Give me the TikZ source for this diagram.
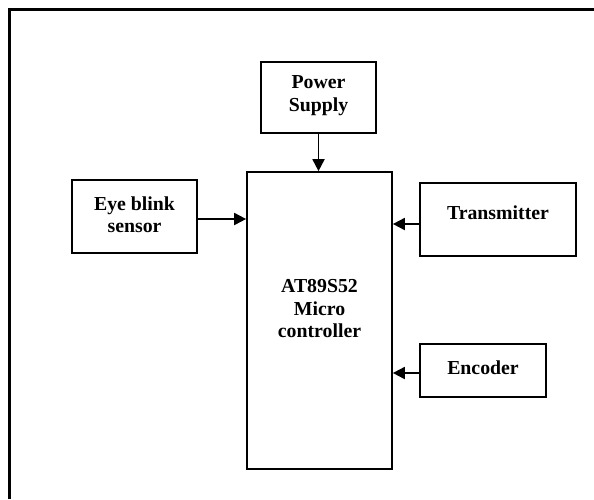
\documentclass[tikz,border=0pt]{standalone}
\usepackage{fontspec}
\setmainfont{Liberation Serif}
\usetikzlibrary{arrows.meta}
\begin{document}
\begin{tikzpicture}[x=1pt,y=-1pt,
  box/.style={draw,line width=1.7pt,inner sep=0pt},
  txt/.style={font=\bfseries\fontsize{19.8}{22.5}\selectfont,align=center,inner sep=0pt},
  arr/.style={line width=1.8pt,-{Triangle[length=12pt,width=12pt]}}]
\useasboundingbox (0,0) rectangle (594,499);
\draw[line width=2.4pt] (9.5,499) -- (9.5,9.5) -- (594,9.5);
% boxes
\node[box, minimum width=115pt, minimum height=71pt] (ps) at (318.5,97.5) {};
\node[box, minimum width=145pt, minimum height=297pt] (mc) at (319.5,320.5) {};
\node[box, minimum width=125pt, minimum height=73pt] (eye) at (134.5,216.5) {};
\node[box, minimum width=156pt, minimum height=73pt] (tx) at (498,219.5) {};
\node[box, minimum width=126pt, minimum height=53pt] (enc) at (483,370.5) {};
% texts
\node[txt] (pst) at (318.5,95.5) {Power\\Supply};
\node[txt] (mct) at (319.5,309) {AT89S52\\Micro\\controller};
\node[txt] (eyet) at (134.5,214.5) {Eye blink\\sensor};
\node[txt] (txt1) at (498,213) {Transmitter};
\node[txt] (enct) at (483,368) {Encoder};
% arrows
\draw[arr] (ps.south) -- (ps.south |- mc.north);
\draw[arr] ([yshift=-2.5pt]eye.east) -- ([yshift=-2.5pt]eye.east -| mc.west);
\draw[arr] ([yshift=-4.5pt]tx.west) -- ([yshift=-4.5pt]tx.west -| mc.east);
\draw[arr] ([yshift=-2.5pt]enc.west) -- ([yshift=-2.5pt]enc.west -| mc.east);
\end{tikzpicture}
\end{document}
